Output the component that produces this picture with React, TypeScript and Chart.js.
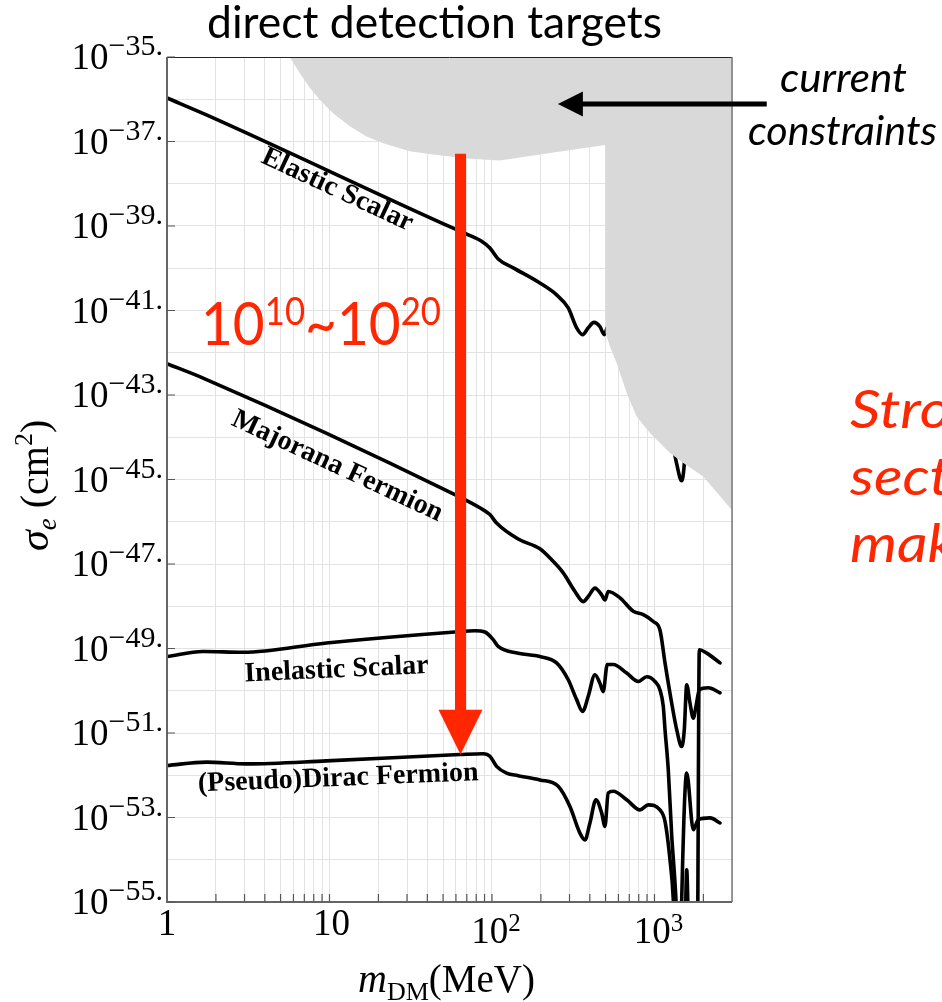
import { useEffect, useRef } from 'react';
import { Chart, registerables } from 'chart.js';

Chart.register(...registerables);

// ---------------- data: dark-matter mass (MeV) and log10 of sigma_e (cm^2) ----------------
const elasticMass = [1, 1.748, 59.1, 69.8, 86.3, 97.1, 109.2, 135.1, 197.2, 249.9, 294.6, 331.9, 361.4, 391.2, 424.1, 461.7, 490.8, 519.4, 613.4, 740.6, 853.1, 983.2, 1081, 1161, 1276, 1370, 1471, 1526, 1579, 1654, 1734, 1801, 1888, 2145, 2531];
const elasticLogSigma = [-35.97, -36.37, -39.07, -39.19, -39.36, -39.52, -39.78, -39.99, -40.35, -40.63, -40.94, -41.41, -41.57, -41.41, -41.28, -41.38, -41.57, -41.36, -41.51, -41.83, -41.91, -42.07, -42.27, -43.05, -44.0, -44.63, -45.03, -44.63, -43.57, -44.0, -44.36, -44.08, -43.69, -43.64, -43.76];

const majoranaMass = [1, 1.667, 59.1, 84.2, 97.1, 106.7, 145, 197.2, 232.8, 274.4, 324.1, 364.5, 391.2, 430.1, 473.0, 495.6, 519.4, 613.4, 740.6, 853.1, 983.2, 1081, 1161, 1276, 1370, 1471, 1526, 1579, 1654, 1734, 1801, 1888, 2145, 2531];
const majoranaLogSigma = [-42.26, -42.6, -45.36, -45.67, -45.83, -46.03, -46.41, -46.64, -46.9, -47.21, -47.65, -47.89, -47.77, -47.57, -47.73, -47.85, -47.65, -47.8, -48.12, -48.2, -48.36, -48.56, -49.34, -50.29, -50.92, -51.32, -50.92, -49.86, -50.29, -50.65, -50.37, -49.98, -49.93, -50.05];

const inelasticMass = [1, 1.667, 2.94, 9.58, 59.1, 78.5, 90.4, 101.7, 109.2, 145, 197.2, 249.9, 294.6, 331.9, 361.4, 391.2, 430.1, 461.7, 483.8, 512.1, 557.6, 674.5, 794.9, 895.4, 1007, 1081, 1133, 1161, 1216, 1276, 1356, 1420, 1520, 1579, 1650, 1830, 1888, 2096, 2531];
const inelasticLogSigma = [-49.19, -49.07, -49.09, -48.87, -48.61, -48.58, -48.61, -48.79, -48.95, -49.11, -49.19, -49.34, -49.74, -50.21, -50.49, -50.13, -49.62, -49.82, -50.02, -49.38, -49.38, -49.58, -49.78, -49.67, -49.78, -49.98, -50.37, -50.92, -51.87, -53.41, -54.95, -57, -57, -54.24, -57, -57, -49.03, -49.11, -49.34];

const diracMass = [1, 1.748, 3.08, 9.58, 63.4, 88.3, 97.1, 106.7, 123, 145, 197.2, 255.6, 301.8, 347.8, 373.3, 400.7, 436.3, 473.0, 495.6, 519.4, 557.6, 674.5, 814.3, 915.8, 1081, 1161, 1246, 1306, 1360, 1440, 1471, 1579, 1734, 1861, 2197, 2531];
const diracLogSigma = [-51.77, -51.69, -51.73, -51.66, -51.51, -51.49, -51.55, -51.79, -51.95, -52.01, -52.11, -52.26, -52.74, -53.37, -53.53, -53.13, -52.58, -52.89, -53.21, -52.42, -52.38, -52.58, -52.82, -52.7, -52.82, -53.09, -54.0, -54.95, -57, -57, -54.95, -51.95, -53.29, -53.05, -53.01, -53.13];

// lower edge of the excluded ("current constraints") region
const constraintMass = [5.69, 6.56, 7.56, 8.72, 10.52, 13.34, 16.9, 21.4, 31.2, 43.4, 69.8, 111.8, 227.2, 500, 500, 532, 585, 674.5, 776.6, 938, 1246, 1504, 1996, 2437, 3000];
const constraintLogSigma = [-35.0, -35.38, -35.73, -36.01, -36.33, -36.64, -36.88, -37.04, -37.23, -37.31, -37.4, -37.45, -37.27, -37.08, -41.53, -41.85, -42.24, -42.95, -43.51, -43.9, -44.37, -44.61, -44.93, -45.32, -45.73];

// axes
const xMin = 1;
const xMax = 3000;
const yMinExp = -55;
const yMaxExp = -35;
const xGridMasses = [1, 2, 3, 4, 5, 6, 7, 8, 9, 10, 20, 30, 40, 50, 60, 70, 80, 90, 100, 200, 300, 400, 500, 600, 700, 800, 900, 1000, 2000, 3000];
const yGridExponents = [-35, -36, -37, -38, -39, -40, -41, -42, -43, -44, -45, -46, -47, -48, -49, -50, -51, -52, -53, -54, -55];
const yLabelExponents = [-35, -37, -39, -41, -43, -45, -47, -49, -51, -53, -55];
const xLabelMasses = [1, 10, 100, 1000];
const xLabelBase = ['1', '10', '10', '10'];
const xLabelSup = ['', '', '2', '3'];

// annotations (data coordinates)
const arrowMass = 64;
const arrowTopLogSigma = -37.29;
const arrowHeadLogSigma = -50.45;
const arrowTipLogSigma = -51.51;
const pointerTipMass = 254.5;
const pointerTailMass = 4909;
const pointerLogSigma = -36.11;

const curveLabels = [
  { text: 'Elastic Scalar', mass: 11.17, logSigma: -38.15, angle: 25, base: 'middle' },
  { text: 'Majorana Fermion', mass: 11.17, logSigma: -44.69, angle: 25, base: 'middle' },
  { text: 'Inelastic Scalar', mass: 11.09, logSigma: -49.68, angle: -2.6, base: 'alphabetic' },
  { text: '(Pseudo)Dirac Fermion', mass: 11.36, logSigma: -52.25, angle: -2.3, base: 'alphabetic' },
];

const sideNote = ['Strong', 'section', 'make'];

const RED = 'rgb(255,38,0)';
const SERIF = '"Liberation Serif", "DejaVu Serif", serif';
const SANS = 'Lato, "Open Sans", sans-serif';

const toPoints = (xs: number[], ls: number[]) => xs.map((x, i) => ({ x, y: Math.pow(10, ls[i]) }));

type Run = { t: string; f: string; dy: number };
function runsWidth(ctx: CanvasRenderingContext2D, runs: Run[]) {
  let w = 0;
  for (const r of runs) {
    ctx.font = r.f;
    w += ctx.measureText(r.t).width;
  }
  return w;
}
function drawRuns(ctx: CanvasRenderingContext2D, runs: Run[], x: number, y: number) {
  ctx.textAlign = 'left';
  ctx.textBaseline = 'alphabetic';
  let cx = x;
  for (const r of runs) {
    ctx.font = r.f;
    ctx.fillText(r.t, cx, y + r.dy);
    cx += ctx.measureText(r.t).width;
  }
}
function drawFit(ctx: CanvasRenderingContext2D, runs: Run[], left: number, baseline: number, width: number) {
  const w = runsWidth(ctx, runs);
  ctx.save();
  ctx.translate(left, baseline);
  ctx.scale(width / w, 1);
  drawRuns(ctx, runs, 0, 0);
  ctx.restore();
}

const overlay = {
  id: 'overlay',
  afterDraw(chart: any) {
    const { ctx, chartArea: a, scales } = chart;
    const xs = scales.x;
    const ys = scales.y;
    const X = (m: number) => xs.getPixelForValue(m);
    const Y = (l: number) => ys.getPixelForValue(Math.pow(10, l));
    ctx.save();

    // frame
    ctx.lineWidth = 1;
    ctx.strokeStyle = '#222';
    ctx.beginPath();
    ctx.moveTo(a.left, a.top + 0.5);
    ctx.lineTo(a.right, a.top + 0.5);
    ctx.stroke();
    ctx.strokeStyle = '#777';
    ctx.lineWidth = 1.5;
    ctx.beginPath();
    ctx.moveTo(a.right, a.top);
    ctx.lineTo(a.right, a.bottom);
    ctx.stroke();
    ctx.strokeStyle = '#666';
    ctx.lineWidth = 2;
    ctx.beginPath();
    ctx.moveTo(a.left, a.top);
    ctx.lineTo(a.left, a.bottom);
    ctx.lineTo(a.right, a.bottom);
    ctx.stroke();

    // tick marks
    ctx.lineWidth = 1.2;
    ctx.strokeStyle = '#555';
    ctx.beginPath();
    for (const e of yLabelExponents) {
      const py = Y(e);
      ctx.moveTo(a.left, py);
      ctx.lineTo(a.left + 8, py);
    }
    for (const m of xGridMasses) {
      if (m <= xMin || m >= xMax) continue;
      const px = X(m);
      ctx.moveTo(px, a.bottom);
      ctx.lineTo(px, a.bottom - 8);
    }
    ctx.stroke();

    // y tick labels
    ctx.fillStyle = '#000';
    for (const e of yLabelExponents) {
      const py = Y(e);
      const runs: Run[] = [
        { t: '10', f: `37px ${SERIF}`, dy: 12 },
        { t: '\u2212' + Math.abs(e) + '.', f: `30px ${SERIF}`, dy: -2 },
      ];
      const w = runsWidth(ctx, runs);
      drawRuns(ctx, runs, 163 - w, py);
    }
    // x tick labels
    xLabelMasses.forEach((m, i) => {
      const px = X(m);
      if (!xLabelSup[i]) {
        ctx.font = `37px ${SERIF}`;
        const w = ctx.measureText(xLabelBase[i]).width;
        drawRuns(ctx, [{ t: xLabelBase[i], f: `37px ${SERIF}`, dy: 0 }], px - w / 2 + (i === 0 ? 0 : 2), 935);
      } else {
        const runs: Run[] = [
          { t: xLabelBase[i], f: `37px ${SERIF}`, dy: 0 },
          { t: xLabelSup[i], f: `25px ${SERIF}`, dy: -12 },
        ];
        const w = runsWidth(ctx, runs);
        drawRuns(ctx, runs, px - w / 2 + 4, 943);
      }
    });

    // axis titles
    drawRuns(
      ctx,
      [
        { t: 'm', f: `italic 40px ${SERIF}`, dy: 0 },
        { t: 'DM', f: `26px ${SERIF}`, dy: 8 },
        { t: '(MeV)', f: `39px ${SERIF}`, dy: 0 },
      ],
      358,
      992
    );
    ctx.save();
    ctx.translate(48, 551);
    ctx.rotate(-Math.PI / 2);
    drawRuns(
      ctx,
      [
        { t: '\u03c3', f: `italic 42px ${SERIF}`, dy: 0 },
        { t: 'e', f: `italic 27px ${SERIF}`, dy: 8 },
        { t: ' (cm', f: `40px ${SERIF}`, dy: 0 },
        { t: '2', f: `26px ${SERIF}`, dy: -16 },
        { t: ')', f: `40px ${SERIF}`, dy: 0 },
      ],
      0,
      0
    );
    ctx.restore();

    // curve labels
    ctx.fillStyle = '#000';
    ctx.font = `bold 28px ${SERIF}`;
    for (const lab of curveLabels) {
      ctx.save();
      ctx.translate(X(lab.mass), Y(lab.logSigma));
      ctx.rotate((lab.angle * Math.PI) / 180);
      ctx.textAlign = 'center';
      ctx.textBaseline = lab.base as CanvasTextBaseline;
      ctx.fillText(lab.text, 0, 0);
      ctx.restore();
    }

    // red arrow
    const ax = X(arrowMass);
    const yTop = Y(arrowTopLogSigma);
    const yHead = Y(arrowHeadLogSigma);
    const yTip = Y(arrowTipLogSigma);
    ctx.fillStyle = RED;
    ctx.fillRect(ax - 5.5, yTop, 11, yHead - yTop + 2);
    ctx.beginPath();
    ctx.moveTo(ax - 22, yHead);
    ctx.lineTo(ax + 22, yHead);
    ctx.lineTo(ax, yTip);
    ctx.closePath();
    ctx.fill();

    // red enhancement text
    drawFit(
      ctx,
      [
        { t: '10', f: `60px ${SANS}`, dy: 0 },
        { t: '10', f: `38px ${SANS}`, dy: -20 },
        { t: '~', f: `60px ${SANS}`, dy: 0 },
        { t: '10', f: `60px ${SANS}`, dy: 0 },
        { t: '20', f: `38px ${SANS}`, dy: -20 },
      ],
      201,
      345,
      240
    );

    // black pointer arrow + "current constraints"
    const py = Y(pointerLogSigma);
    const tipX = X(pointerTipMass);
    const tailX = X(pointerTailMass);
    ctx.fillStyle = '#000';
    ctx.strokeStyle = '#000';
    ctx.lineWidth = 5;
    ctx.beginPath();
    ctx.moveTo(tipX + 20, py);
    ctx.lineTo(tailX, py);
    ctx.stroke();
    ctx.beginPath();
    ctx.moveTo(tipX, py);
    ctx.lineTo(tipX + 25, py - 12.5);
    ctx.lineTo(tipX + 25, py + 12.5);
    ctx.closePath();
    ctx.fill();
    drawFit(ctx, [{ t: 'current', f: `italic 40px ${SANS}`, dy: 0 }], 780, 92, 127);
    drawFit(ctx, [{ t: 'constraints', f: `italic 40px ${SANS}`, dy: 0 }], 748, 145, 189);

    // title
    drawFit(ctx, [{ t: 'direct detection targets', f: `44px ${SANS}`, dy: 0 }], 207, 38, 455);

    // red side note (cut by the page edge)
    ctx.fillStyle = RED;
    ctx.font = `italic 52px ${SANS}`;
    ctx.textAlign = 'left';
    ctx.textBaseline = 'alphabetic';
    const baselines = [428, 495, 562];
    sideNote.forEach((t, i) => {
      ctx.save();
      ctx.translate(850, baselines[i]);
      ctx.scale(1.15, 1);
      ctx.fillText(t, 0, 0);
      ctx.restore();
    });

    ctx.restore();
  },
};

export default function App() {
  const ref = useRef<HTMLCanvasElement>(null);
  useEffect(() => {
    const canvas = ref.current;
    if (!canvas) return;
    const curve = (label: string, xs: number[], ls: number[]) => ({
      label,
      data: toPoints(xs, ls),
      borderColor: '#000',
      borderWidth: 3.6,
      pointRadius: 0,
      fill: false,
      cubicInterpolationMode: 'monotone' as const,
      borderJoinStyle: 'round' as const,
      borderCapStyle: 'round' as const,
      order: 1,
    });
    const chart = new Chart(canvas, {
      type: 'line',
      data: {
        datasets: [
          {
            label: 'current constraints',
            data: toPoints(constraintMass, constraintLogSigma),
            fill: 'end',
            backgroundColor: '#d9d9d9',
            borderColor: 'rgba(0,0,0,0)',
            borderWidth: 0,
            pointRadius: 0,
            tension: 0,
            order: 0,
          },
          curve('Elastic Scalar', elasticMass, elasticLogSigma),
          curve('Majorana Fermion', majoranaMass, majoranaLogSigma),
          curve('Inelastic Scalar', inelasticMass, inelasticLogSigma),
          curve('(Pseudo)Dirac Fermion', diracMass, diracLogSigma),
        ] as any,
      },
      options: {
        animation: false,
        responsive: false,
        maintainAspectRatio: false,
        events: [],
        layout: { padding: { left: 167, top: 57, right: 210, bottom: 100 } },
        plugins: { legend: { display: false }, tooltip: { enabled: false } },
        scales: {
          x: {
            type: 'logarithmic',
            min: xMin,
            max: xMax,
            afterBuildTicks: (s: any) => {
              s.ticks = xGridMasses.map((v) => ({ value: v }));
            },
            afterFit: (s: any) => {
              s.height = 0;
            },
            ticks: { display: false },
            grid: { color: '#e3e3e3', lineWidth: 1, drawTicks: false },
            border: { display: false },
          },
          y: {
            type: 'logarithmic',
            min: Math.pow(10, yMinExp),
            max: Math.pow(10, yMaxExp),
            afterBuildTicks: (s: any) => {
              s.ticks = yGridExponents.map((e) => ({ value: Math.pow(10, e) }));
            },
            afterFit: (s: any) => {
              s.width = 0;
            },
            ticks: { display: false },
            grid: { color: '#e3e3e3', lineWidth: 1, drawTicks: false },
            border: { display: false },
          },
        },
      } as any,
      plugins: [overlay],
    });
    let alive = true;
    if ((document as any).fonts && (document as any).fonts.load) {
      Promise.all([
        (document as any).fonts.load(`44px Lato`),
        (document as any).fonts.load(`italic 40px Lato`),
        (document as any).fonts.load(`36px "Liberation Serif"`),
        (document as any).fonts.load(`bold 28px "Liberation Serif"`),
      ])
        .then(() => {
          if (alive) chart.update();
        })
        .catch(() => {});
    }
    return () => {
      alive = false;
      chart.destroy();
    };
  }, []);
  return (
    <div style={{ position: 'absolute', left: 0, top: 0, width: 942, height: 1002, background: '#fff' }}>
      <canvas ref={ref} width={942} height={1002} style={{ display: 'block', width: 942, height: 1002 }} />
    </div>
  );
}
